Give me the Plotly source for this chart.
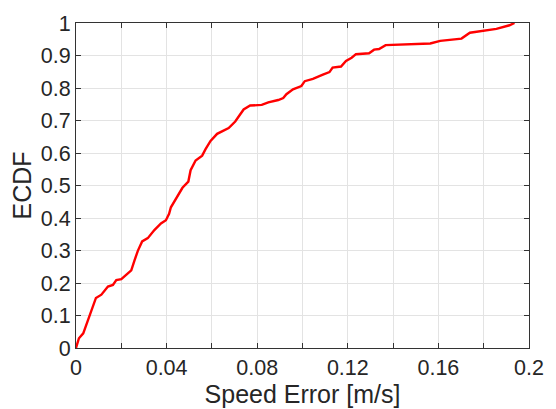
import plotly.graph_objects as go

speed_error = [0.0, 0.0013, 0.0032, 0.0054, 0.0088, 0.0112, 0.0141, 0.0163, 0.0178, 0.0200,
               0.0229, 0.0244, 0.0258, 0.0273, 0.0292, 0.0317, 0.0346, 0.0375, 0.0397, 0.0411,
               0.0419, 0.0441, 0.0455, 0.0470, 0.0496, 0.0506, 0.0528, 0.0557, 0.0572, 0.0594,
               0.0623, 0.0674, 0.0703, 0.0718, 0.0740, 0.0769, 0.0820, 0.0849, 0.0893, 0.0915,
               0.0929, 0.0958, 0.0995, 0.1010, 0.1046, 0.1090, 0.1119, 0.1133, 0.1170, 0.1192,
               0.1217, 0.1236, 0.1294, 0.1316, 0.1338, 0.1367, 0.1418, 0.1564, 0.1608, 0.1702,
               0.1739, 0.1797, 0.1856, 0.1914, 0.1936]
ecdf = [0.0, 0.030, 0.045, 0.090, 0.154, 0.164, 0.189, 0.194, 0.209, 0.212,
        0.229, 0.239, 0.269, 0.299, 0.328, 0.338, 0.363, 0.383, 0.393, 0.413,
        0.433, 0.458, 0.478, 0.493, 0.512, 0.547, 0.577, 0.592, 0.612, 0.637,
        0.659, 0.677, 0.697, 0.711, 0.734, 0.746, 0.748, 0.756, 0.763, 0.769,
        0.781, 0.796, 0.806, 0.821, 0.828, 0.841, 0.849, 0.863, 0.866, 0.883,
        0.893, 0.904, 0.907, 0.918, 0.920, 0.932, 0.933, 0.937, 0.945, 0.952,
        0.970, 0.975, 0.982, 0.993, 1.000]

x_tickvals = [0, 0.02, 0.04, 0.06, 0.08, 0.10, 0.12, 0.14, 0.16, 0.18, 0.20]
x_ticktext = ["0", "", "0.04", "", "0.08", "", "0.12", "", "0.16", "", "0.2"]
y_tickvals = [0, 0.1, 0.2, 0.3, 0.4, 0.5, 0.6, 0.7, 0.8, 0.9, 1.0]
y_ticktext = ["0", "0.1", "0.2", "0.3", "0.4", "0.5", "0.6", "0.7", "0.8", "0.9", "1"]

FONT = "Liberation Sans, Arial, Helvetica, sans-serif"
AX = "#333333"

fig = go.Figure()
fig.add_trace(go.Scatter(x=speed_error, y=ecdf, mode="lines",
                         line=dict(color="#ff0000", width=2.4), showlegend=False))

axis_common = dict(showline=True, linecolor=AX, linewidth=1, mirror="ticks",
                   ticks="inside", ticklen=5, tickcolor=AX, tickwidth=1,
                   showgrid=True, gridcolor="#e3e3e3", gridwidth=1, zeroline=False,
                   tickfont=dict(family=FONT, size=21.5, color="#262626"))

fig.update_xaxes(range=[0, 0.2], tickmode="array", tickvals=x_tickvals, ticktext=x_ticktext,
                 title=dict(text="Speed Error [m/s]", font=dict(family=FONT, size=25, color="#262626"),
                            standoff=0), **axis_common)
fig.update_yaxes(range=[0, 1], tickmode="array", tickvals=y_tickvals, ticktext=y_ticktext,
                 title=dict(text="ECDF", font=dict(family=FONT, size=25, color="#262626"),
                            standoff=2), **axis_common)

fig.update_layout(width=556, height=409, margin=dict(l=76, r=23, t=15, b=59),
                  plot_bgcolor="white", paper_bgcolor="white")

fig.write_html("out.html")
